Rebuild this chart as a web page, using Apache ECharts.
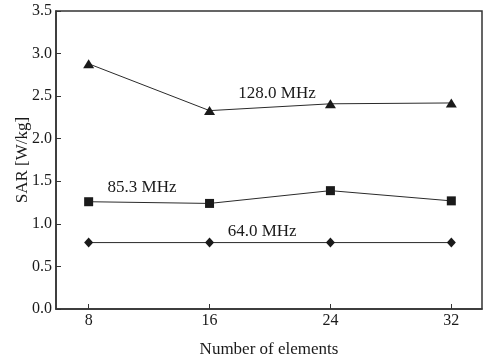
<!DOCTYPE html>
<html>
<head>
<meta charset="utf-8">
<script src="https://cdn.jsdelivr.net/npm/echarts@6/dist/echarts.min.js"></script>
<style>
  html, body { margin: 0; padding: 0; background: #fff; }
  #main { width: 485px; height: 359px; }
</style>
</head>
<body>
<div id="main"></div>
<script>
// number of array elements on the x axis
var elements = [8, 16, 24, 32];
var yTicks = [0, 0.5, 1.0, 1.5, 2.0, 2.5, 3.0, 3.5];

// SAR values
var sar128 = [2.88, 2.33, 2.41, 2.42];
var sar853 = [1.26, 1.24, 1.39, 1.27];
var sar64 = [0.78, 0.78, 0.78, 0.78];

var seriesNames = ['128.0 MHz', '85.3 MHz', '64.0 MHz'];

var font = 'Liberation Serif';
var ink = '#1a1a1a';

function pairs(vals) {
  return elements.map(function (x, i) { return [x, vals[i]]; });
}

function lineSeries(name, vals, symbol, size, labelAt) {
  return {
    name: name,
    type: 'line',
    data: pairs(vals),
    symbol: symbol,
    symbolSize: size,
    showAllSymbol: true,
    lineStyle: { color: '#2a2a2a', width: 1 },
    itemStyle: { color: ink },
    animation: false,
    markPoint: {
      symbol: 'circle',
      symbolSize: 1,
      silent: true,
      itemStyle: { color: 'rgba(0,0,0,0)' },
      label: {
        show: true,
        position: 'inside',
        formatter: name,
        fontFamily: font,
        fontSize: 17,
        color: ink
      },
      data: [{ coord: labelAt }]
    }
  };
}

var myChart = echarts.init(document.getElementById('main'), null, { renderer: 'canvas' });

var option = {
  animation: false,
  grid: {
    left: 56,
    top: 11,
    right: 3,
    bottom: 50,
    outerBoundsMode: 'none',
    containLabel: false,
    show: true,
    borderColor: '#333',
    borderWidth: 1.5
  },
  xAxis: {
    type: 'value',
    min: 5.84,
    max: 34.03,
    name: 'Number of elements',
    nameLocation: 'middle',
    nameGap: 32,
    nameTextStyle: { fontFamily: font, fontSize: 17, color: ink },
    axisLine: { show: true, lineStyle: { color: '#333', width: 1.5 } },
    axisTick: { show: true, inside: true, length: 5, customValues: elements, lineStyle: { color: '#333' } },
    axisLabel: { customValues: elements, fontFamily: font, fontSize: 16, color: ink, margin: 4 },
    splitLine: { show: false }
  },
  yAxis: {
    type: 'value',
    min: 0,
    max: 3.5,
    interval: 0.5,
    name: 'SAR [W/kg]',
    nameLocation: 'middle',
    nameGap: 25,
    nameMoveOverlap: false,
    nameTextStyle: { fontFamily: font, fontSize: 17, color: ink },
    axisLine: { show: true, lineStyle: { color: '#333', width: 1.5 } },
    axisTick: { show: true, inside: true, length: 5, lineStyle: { color: '#333' } },
    axisLabel: {
      fontFamily: font, fontSize: 16, color: ink, margin: 4,
      formatter: function (v) { return v.toFixed(1); }
    },
    splitLine: { show: false }
  },
  series: [
    lineSeries(seriesNames[0], sar128, 'triangle', [11, 9], [20.47, 2.53]),
    lineSeries(seriesNames[1], sar853, 'rect', 9, [11.53, 1.43]),
    lineSeries(seriesNames[2], sar64, 'diamond', [9, 10], [19.48, 0.91])
  ]
};

myChart.setOption(option);
</script>
</body>
</html>
